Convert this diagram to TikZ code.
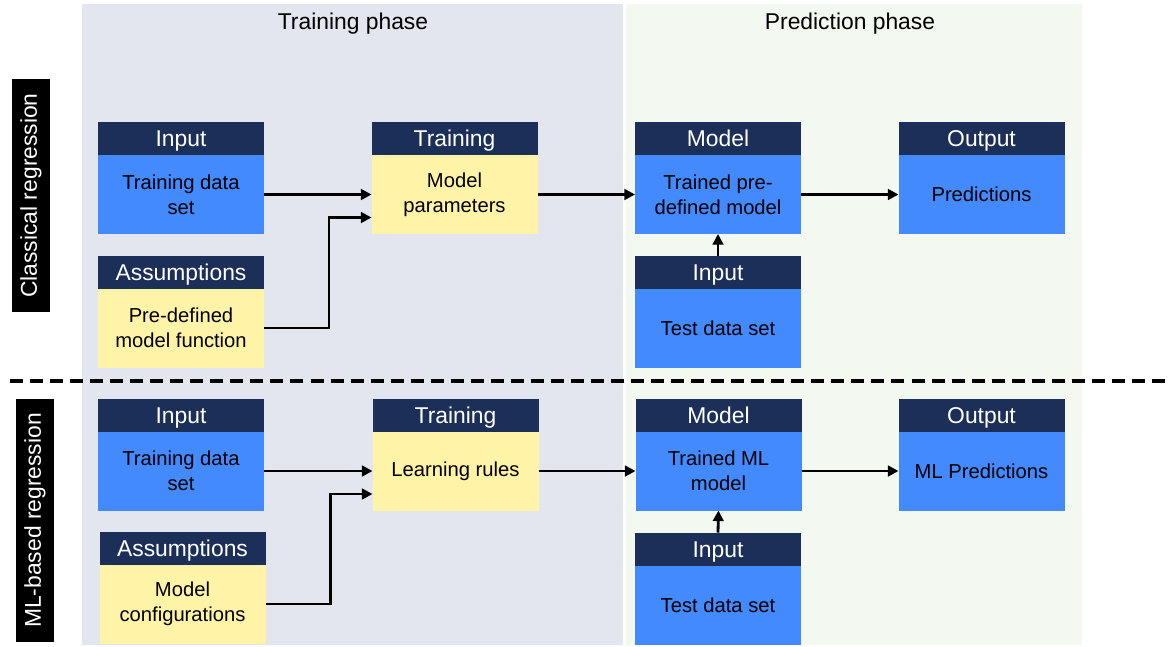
\documentclass[tikz,border=0pt]{standalone}
\usepackage{fontspec}
\setmainfont{Liberation Sans}
\usetikzlibrary{positioning,arrows.meta}

\definecolor{navy}{RGB}{27,47,89}
\definecolor{boxblue}{RGB}{68,138,255}
\definecolor{boxyellow}{RGB}{255,243,168}
\definecolor{trainbg}{RGB}{227,230,238}
\definecolor{predbg}{RGB}{243,248,241}

\tikzset{
  hdr/.style={fill=navy, text=white, font=\fontsize{13}{15}\selectfont, minimum width=3.32cm, minimum height=0.66cm, text height=0.95em, text depth=0pt, inner sep=0pt, outer sep=0pt},
  bluebox/.style={fill=boxblue, align=center, font=\fontsize{11.5}{14}\selectfont, minimum width=3.32cm, minimum height=1.58cm, inner sep=0pt, outer sep=0pt},
  yellowbox/.style={bluebox, fill=boxyellow},
  sidelabel/.style={fill=black, text=white, rotate=90, font=\fontsize{13}{15}\selectfont, minimum height=0.76cm, inner sep=0pt},
  flow/.style={->, line width=1.6pt}
}

\begin{document}
\begin{tikzpicture}[>={Triangle[length=6pt,width=6pt]}]
  \useasboundingbox (0,0) rectangle (23.42,-12.92);
  % phase panels
  \fill[trainbg] (1.64,-0.08) rectangle (12.46,-12.90);
  \fill[predbg] (12.52,-0.08) rectangle (21.64,-12.90);
  \node (trphase) at (7.06,-0.47) {\fontsize{13}{15}\selectfont Training phase};
  \node (prphase) at (17.0,-0.47) {\fontsize{13}{15}\selectfont Prediction phase};
  \node[sidelabel, minimum width=4.66cm] (classical) at (0.62,-3.91) {Classical regression};
  \node[sidelabel, minimum width=4.86cm] (mlbased) at (0.70,-10.41) {ML-based regression};
  \coordinate (sepL) at (0.2,-7.62);
  \coordinate (sepR) at (23.42,-7.62);
  \draw[line width=2pt, dash pattern=on 7.4pt off 4pt] (sepL) -- (sepR);

  % classical regression
  \node[hdr] (inA) at (3.62,-2.77) {Input};
  \node[bluebox, below=0pt of inA] (inAb) {Training data\\set};
  \node[hdr] (asA) at (3.62,-5.44) {Assumptions};
  \node[yellowbox, below=0pt of asA] (asAb) {Pre-defined\\model function};
  \node[hdr] (trA) at (9.09,-2.77) {Training};
  \node[yellowbox, below=0pt of trA] (trAb) {Model\\parameters};
  \node[hdr] (moA) at (14.36,-2.77) {Model};
  \node[bluebox, below=0pt of moA] (moAb) {Trained pre-\\defined model};
  \node[hdr] (ouA) at (19.63,-2.77) {Output};
  \node[bluebox, below=0pt of ouA] (ouAb) {Predictions};
  \node[hdr] (teA) at (14.36,-5.45) {Input};
  \node[bluebox, below=0pt of teA] (teAb) {Test data set};
  \draw[flow] (inAb) -- (trAb);
  \draw[flow] (asAb.east) -- ++(1.3,0) |- ([yshift=-0.46cm]trAb.west);
  \draw[flow] (trAb) -- (moAb);
  \draw[flow] (moAb) -- (ouAb);
  \draw[flow] (teA.north) -- (moAb.south);

  % ML-based regression
  \node[hdr] (inB) at (3.62,-8.30) {Input};
  \node[bluebox, below=0pt of inB] (inBb) {Training data\\set};
  \node[hdr] (asB) at (3.65,-10.96) {Assumptions};
  \node[yellowbox, below=0pt of asB] (asBb) {Model\\configurations};
  \node[hdr] (trB) at (9.11,-8.30) {Training};
  \node[yellowbox, below=0pt of trB] (trBb) {Learning rules};
  \node[hdr] (moB) at (14.37,-8.30) {Model};
  \node[bluebox, below=0pt of moB] (moBb) {Trained ML\\model};
  \node[hdr] (ouB) at (19.63,-8.30) {Output};
  \node[bluebox, below=0pt of ouB] (ouBb) {ML Predictions};
  \node[hdr] (teB) at (14.36,-10.98) {Input};
  \node[bluebox, below=0pt of teB] (teBb) {Test data set};
  \draw[flow] (inBb) -- (trBb);
  \draw[flow] (asBb.east) -- ++(1.3,0) |- ([yshift=-0.46cm]trBb.west);
  \draw[flow] (trBb) -- (moBb);
  \draw[flow] (moBb) -- (ouBb);
  \draw[flow] (teB.north) -- (moBb.south);
\end{tikzpicture}
\end{document}
